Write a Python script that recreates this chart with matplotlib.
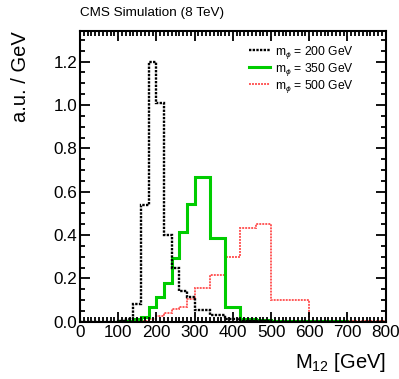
import numpy as np
import matplotlib
matplotlib.use("Agg")
from matplotlib import pyplot as plt
from matplotlib.lines import Line2D
from matplotlib.ticker import MultipleLocator

plt.rcParams['font.family'] = ['Liberation Sans', 'DejaVu Sans']
plt.rcParams['mathtext.fontset'] = 'custom'
plt.rcParams['mathtext.rm'] = 'Liberation Sans'
plt.rcParams['mathtext.it'] = 'Liberation Sans:italic'
plt.rcParams['mathtext.sf'] = 'Liberation Sans'

# bin edges in GeV (20 GeV up to 300, then wider)
edges = [0, 20, 40, 60, 80, 100, 120, 140, 160, 180, 200, 220, 240, 260, 280, 300,
         340, 380, 420, 460, 500, 600, 700, 800]

# a.u. / GeV
m200 = [0, 0, 0, 0, 0, 0.003, 0.015, 0.08, 0.54, 1.20, 1.01, 0.40, 0.25, 0.14, 0.115,
        0.055, 0.032, 0.012, 0.005, 0.002, 0.001, 0, 0]
m350 = [0, 0, 0, 0, 0, 0.002, 0.005, 0.012, 0.023, 0.068, 0.115, 0.178, 0.292, 0.412, 0.545,
        0.668, 0.386, 0.069, 0.014, 0.01, 0.005, 0.002, 0.001]
m500 = [0, 0, 0, 0, 0, 0, 0, 0, 0.005, 0.011, 0.026, 0.04, 0.06, 0.07, 0.105,
        0.154, 0.216, 0.30, 0.432, 0.452, 0.10, 0.005, 0.002]

labels = [r'm$_{\phi}$ = 200 GeV', r'm$_{\phi}$ = 350 GeV', r'm$_{\phi}$ = 500 GeV']

fig = plt.figure(figsize=(3.99, 3.79), dpi=100)
ax = fig.add_axes([0.2005, 0.151, 0.7662, 0.767])

black_style = dict(color='black', linewidth=1.7, linestyle=(0, (1, 0.55)))
green_style = dict(color='#00cc00', linewidth=2.2, linestyle='-')
red_style = dict(color='#ff3030', linewidth=1.4, linestyle=(0, (1, 0.55)), alpha=0.8)

ax.stairs(m500, edges, baseline=None, **red_style)
ax.stairs(m350, edges, baseline=None, **green_style)
ax.stairs(m200, edges, baseline=None, **black_style)

ax.set_xlim(0, 800)
ax.set_ylim(0, 1.341)

ax.xaxis.set_major_locator(MultipleLocator(100))
ax.xaxis.set_minor_locator(MultipleLocator(10))
ax.yaxis.set_major_locator(MultipleLocator(0.2))
ax.yaxis.set_minor_locator(MultipleLocator(0.05))
ax.yaxis.set_major_formatter(matplotlib.ticker.FormatStrFormatter('%.1f'))

ax.tick_params(which='both', direction='in', top=True, right=True, width=1.3, labelsize=12.3)
ax.tick_params(which='major', length=7, pad=2)
ax.tick_params(which='minor', length=3.5)
for s in ax.spines.values():
    s.set_linewidth(1.5)

ax.set_xlabel(r'M$_{12}$ [GeV]', fontsize=14.5, loc='right', labelpad=8)
ax.set_ylabel('a.u. / GeV', fontsize=14.5, loc='top', labelpad=17)

fig.text(0.2, 0.967, 'CMS Simulation (8 TeV)', fontsize=9.7, ha='left', va='center')

handles = [Line2D([], [], **black_style), Line2D([], [], **green_style), Line2D([], [], **red_style)]
ax.legend(handles, labels, loc='upper right', bbox_to_anchor=(0.915, 0.978), frameon=False,
          fontsize=8.7, handlelength=1.75, handletextpad=0.4, labelspacing=0.0, borderpad=0)

fig.savefig('out.png', dpi=100)
